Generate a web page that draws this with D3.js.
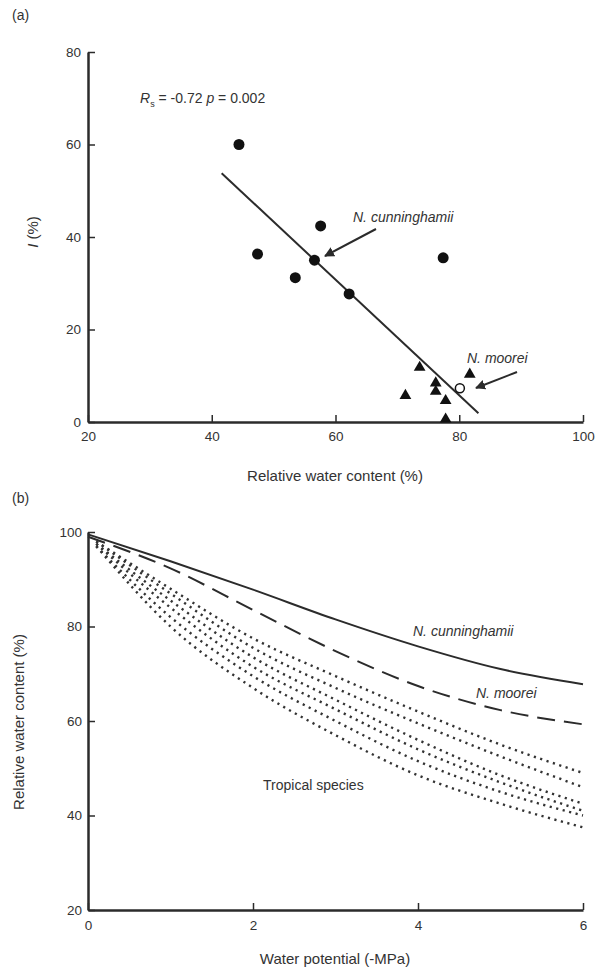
<!DOCTYPE html>
<html>
<head>
<meta charset="utf-8">
<script src="https://cdn.jsdelivr.net/npm/d3@7/dist/d3.min.js"></script>
<style>
  html, body { margin: 0; padding: 0; background: #fff; }
  svg { display: block; font-family: "Liberation Sans", Arial, sans-serif; }
</style>
</head>
<body>
<svg id="chart" width="600" height="973"></svg>
<script>
// ---------- Panel (a) data ----------
const rwcCircles = [44.4, 47.4, 53.5, 56.6, 57.6, 62.2, 77.4];
const iCircles   = [60.0, 36.3, 31.2, 35.0, 42.4, 27.7, 35.5];
const rwcTriangles = [71.3, 73.6, 76.2, 76.2, 77.8, 77.8, 81.7];
const iTriangles   = [5.7, 11.8, 8.4, 6.6, 4.6, 0.6, 10.3];
const rwcOpen = [80.1];
const iOpen   = [7.3];
const regX = [41.6, 83.1];
const regY = [53.8, 1.9];
const aXTicks = [20, 40, 60, 80, 100];
const aYTicks = [0, 20, 40, 60, 80];

// ---------- Panel (b) data ----------
const wp = [0, 1, 2, 3, 4, 5, 6];
const cunninghamii = [99.5, 93.8, 87.8, 81.5, 75.8, 71.0, 67.8];
const moorei       = [99.0, 92.3, 83.5, 74.8, 67.4, 62.3, 59.3];
const wpTrop = [0.1, 1, 2, 3, 4, 5, 6];
const tropical1 = [98.0, 88.0, 77.5, 69.5, 62.0, 55.0, 49.0];
const tropical2 = [98.0, 87.0, 75.5, 67.0, 59.5, 52.5, 46.0];
const tropical3 = [97.5, 85.5, 73.5, 64.5, 56.0, 48.5, 42.5];
const tropical4 = [97.5, 84.0, 71.5, 62.5, 54.0, 47.0, 41.0];
const tropical5 = [97.0, 82.0, 69.5, 60.0, 51.5, 45.0, 40.0];
const tropical6 = [97.0, 80.0, 67.0, 57.0, 48.5, 42.5, 37.5];
const bXTicks = [0, 2, 4, 6];
const bYTicks = [20, 40, 60, 80, 100];

const svg = d3.select("#chart");
const ink = "#2b2b2b";

svg.append("defs").append("marker")
  .attr("id", "arrow").attr("viewBox", "0 0 10 10")
  .attr("refX", 9).attr("refY", 5)
  .attr("markerWidth", 5).attr("markerHeight", 5)
  .attr("orient", "auto")
  .append("path").attr("d", "M0,0 L10,5 L0,10 z").attr("fill", ink);

function styleAxis(g) {
  g.select(".domain").attr("stroke", ink).attr("stroke-width", 2.5);
  g.selectAll(".tick line").attr("stroke", ink).attr("stroke-width", 1.5);
  g.selectAll(".tick text").attr("fill", "#333").attr("font-size", 13.5);
}

// ================= Panel (a) =================
const ax = d3.scaleLinear().domain([20, 100]).range([88, 583]);
const ay = d3.scaleLinear().domain([0, 80]).range([422, 52]);

svg.append("g").attr("transform", `translate(0,${ay(0)})`)
  .call(d3.axisBottom(ax).tickValues(aXTicks).tickFormat(d3.format("d")).tickSize(-7).tickSizeOuter(0).tickPadding(9))
  .call(styleAxis);
svg.append("g").attr("transform", `translate(${ax(20)},0)`)
  .call(d3.axisLeft(ay).tickValues(aYTicks).tickFormat(d3.format("d")).tickSize(-7).tickSizeOuter(0).tickPadding(7))
  .call(styleAxis);

svg.append("line")
  .attr("x1", ax(regX[0])).attr("y1", ay(regY[0]))
  .attr("x2", ax(regX[1])).attr("y2", ay(regY[1]))
  .attr("stroke", ink).attr("stroke-width", 2);

svg.append("g").selectAll("circle").data(rwcCircles).join("circle")
  .attr("cx", (d) => ax(d)).attr("cy", (d, i) => ay(iCircles[i]))
  .attr("r", 5.5).attr("fill", "#111");

const tri = d3.symbol().type(d3.symbolTriangle).size(60);
svg.append("g").selectAll("path").data(rwcTriangles).join("path")
  .attr("d", tri)
  .attr("transform", (d, i) => `translate(${ax(d)},${ay(iTriangles[i])})`)
  .attr("fill", "#111");

svg.append("g").selectAll("circle").data(rwcOpen).join("circle")
  .attr("cx", (d) => ax(d)).attr("cy", (d, i) => ay(iOpen[i]))
  .attr("r", 4.5).attr("fill", "#fff").attr("stroke", "#111").attr("stroke-width", 1.5);

// annotation text
const ann = svg.append("text").attr("x", 140).attr("y", 103)
  .attr("font-size", 14).attr("fill", "#333");
ann.append("tspan").attr("font-style", "italic").text("R");
ann.append("tspan").attr("font-size", 9).attr("dy", 4).text("s");
ann.append("tspan").attr("dy", -4).text(" = -0.72  ");
ann.append("tspan").attr("font-style", "italic").text("p");
ann.append("tspan").text(" = 0.002");

svg.append("text").attr("x", 353).attr("y", 222)
  .attr("font-size", 14).attr("font-style", "italic").attr("fill", "#333")
  .text("N. cunninghamii");
svg.append("line").attr("x1", 376).attr("y1", 229).attr("x2", 325).attr("y2", 256)
  .attr("stroke", ink).attr("stroke-width", 2).attr("marker-end", "url(#arrow)");

svg.append("text").attr("x", 467).attr("y", 363)
  .attr("font-size", 14).attr("font-style", "italic").attr("fill", "#333")
  .text("N. moorei");
svg.append("line").attr("x1", 517).attr("y1", 372).attr("x2", 476).attr("y2", 388)
  .attr("stroke", ink).attr("stroke-width", 2).attr("marker-end", "url(#arrow)");

svg.append("text").attr("x", 12).attr("y", 20).attr("font-size", 14).attr("fill", "#333").text("(a)");

const ylabA = svg.append("text")
  .attr("transform", "translate(38,232) rotate(-90)")
  .attr("text-anchor", "middle").attr("font-size", 15).attr("fill", "#333");
ylabA.append("tspan").attr("font-style", "italic").text("I");
ylabA.append("tspan").text(" (%)");

svg.append("text").attr("x", 335).attr("y", 481).attr("text-anchor", "middle")
  .attr("font-size", 15).attr("fill", "#333").text("Relative water content (%)");

// ================= Panel (b) =================
const bx = d3.scaleLinear().domain([0, 6]).range([88, 583]);
const by = d3.scaleLinear().domain([20, 100]).range([910, 532]);

svg.append("g").attr("transform", `translate(0,${by(20)})`)
  .call(d3.axisBottom(bx).tickValues(bXTicks).tickFormat(d3.format("d")).tickSize(-7).tickSizeOuter(0).tickPadding(10))
  .call(styleAxis);
svg.append("g").attr("transform", `translate(${bx(0)},0)`)
  .call(d3.axisLeft(by).tickValues(bYTicks).tickFormat(d3.format("d")).tickSize(-7).tickSizeOuter(0).tickPadding(6))
  .call(styleAxis);

const line = (xs) => d3.line().x((d, i) => bx(xs[i])).y((d) => by(d)).curve(d3.curveMonotoneX);

[tropical1, tropical2, tropical3, tropical4, tropical5, tropical6].forEach((s) => {
  svg.append("path").attr("d", line(wpTrop)(s))
    .attr("fill", "none").attr("stroke", "#333").attr("stroke-width", 2.4)
    .attr("stroke-dasharray", "2.2,4.5").attr("stroke-linecap", "butt");
});
svg.append("path").attr("d", line(wp)(moorei))
  .attr("fill", "none").attr("stroke", ink).attr("stroke-width", 2)
  .attr("stroke-dasharray", "18,9");
svg.append("path").attr("d", line(wp)(cunninghamii))
  .attr("fill", "none").attr("stroke", ink).attr("stroke-width", 2);

svg.append("text").attr("x", 413).attr("y", 636)
  .attr("font-size", 14).attr("font-style", "italic").attr("fill", "#333").text("N. cunninghamii");
svg.append("text").attr("x", 476).attr("y", 698)
  .attr("font-size", 14).attr("font-style", "italic").attr("fill", "#333").text("N. moorei");
svg.append("text").attr("x", 263).attr("y", 790)
  .attr("font-size", 14).attr("fill", "#333").text("Tropical species");

svg.append("text").attr("x", 12).attr("y", 503).attr("font-size", 14).attr("fill", "#333").text("(b)");

svg.append("text")
  .attr("transform", "translate(24,722) rotate(-90)")
  .attr("text-anchor", "middle").attr("font-size", 15).attr("fill", "#333")
  .text("Relative water content (%)");
svg.append("text").attr("x", 335).attr("y", 964).attr("text-anchor", "middle")
  .attr("font-size", 15).attr("fill", "#333").text("Water potential (-MPa)");
</script>
</body>
</html>
